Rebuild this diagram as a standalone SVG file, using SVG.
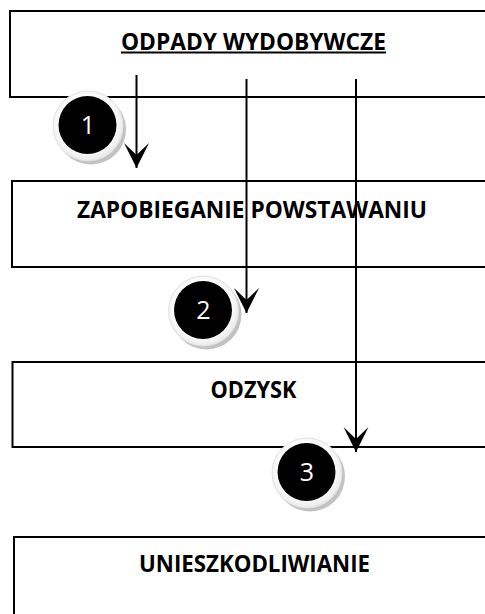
<svg xmlns="http://www.w3.org/2000/svg" width="485" height="614" viewBox="0 0 485 614">
  <style>
    .box { fill: none; stroke: #000; stroke-width: 2; }
    .label { font-family: "Open Sans", "Liberation Sans", sans-serif; font-weight: bold; font-size: 23px; fill: #000; text-anchor: middle; }
    .link { stroke: #000; stroke-width: 2; fill: none; }
    .shadow { fill: #c2c2c2; }
    .ring { fill: url(#ringFill); stroke: #e2e2e2; stroke-width: 1; }
    .disc { fill: #000; }
    .num { font-family: "Open Sans", "Liberation Sans", sans-serif; font-size: 25px; fill: #fff; text-anchor: middle; }
  </style>
  <defs>
    <radialGradient id="ringFill" cx="0.48" cy="0.46" r="0.55">
      <stop offset="0.7" stop-color="#ffffff"/>
      <stop offset="1" stop-color="#e8e8e8"/>
    </radialGradient>
    <!-- concave arrowhead, tip at the end of the line -->
    <marker id="head" markerUnits="userSpaceOnUse" markerWidth="28" markerHeight="28" viewBox="-27 -14 28 28" refX="0" refY="0" orient="auto">
      <path d="M0,0 L-25,-12.5 L-13,0 L-25,12.5 Z" fill="#000"/>
    </marker>
  </defs>

  <rect width="485" height="614" fill="#fff"/>

  <!-- stages -->
  <g id="odpady">
    <rect class="box" x="10" y="11" width="490" height="86"/>
    <text class="label" x="253.5" y="49.5" textLength="265" lengthAdjust="spacingAndGlyphs">ODPADY WYDOBYWCZE</text>
    <line x1="121" y1="52.5" x2="386" y2="52.5" stroke="#000" stroke-width="2"/>
  </g>
  <g id="zapobieganie">
    <rect class="box" x="12" y="181" width="490" height="86"/>
    <text class="label" x="252" y="217.5" textLength="350" lengthAdjust="spacingAndGlyphs">ZAPOBIEGANIE POWSTAWANIU</text>
  </g>
  <g id="odzysk">
    <rect class="box" x="12.5" y="362" width="490" height="85"/>
    <text class="label" x="253.5" y="397.5" textLength="86" lengthAdjust="spacingAndGlyphs">ODZYSK</text>
  </g>
  <g id="unieszkodliwianie">
    <rect class="box" x="14" y="537" width="490" height="100"/>
    <text class="label" x="254.5" y="571.5" textLength="231" lengthAdjust="spacingAndGlyphs">UNIESZKODLIWIANIE</text>
  </g>

  <!-- flows -->
  <g id="connectors">
    <line class="link" x1="136.5" y1="75" x2="136.5" y2="168" marker-end="url(#head)"/>
    <line class="link" x1="246.5" y1="79" x2="246.5" y2="313" marker-end="url(#head)"/>
    <line class="link" x1="356" y1="79" x2="356" y2="452" marker-end="url(#head)"/>
  </g>

  <!-- numbered badges -->
  <g id="badge1">
    <circle class="shadow" cx="91" cy="129.5" r="35"/>
    <circle class="ring" cx="88" cy="126" r="35"/>
    <circle class="disc" cx="87.5" cy="125" r="29"/>
    <text class="num" x="88" y="134">1</text>
  </g>
  <g id="badge2">
    <circle class="shadow" cx="206.5" cy="314.5" r="35"/>
    <circle class="ring" cx="203.5" cy="311" r="35"/>
    <circle class="disc" cx="203" cy="310" r="29"/>
    <text class="num" x="203.5" y="319">2</text>
  </g>
  <g id="badge3">
    <circle class="shadow" cx="310" cy="476.5" r="35"/>
    <circle class="ring" cx="307" cy="473" r="35"/>
    <circle class="disc" cx="306.5" cy="472" r="29"/>
    <text class="num" x="307" y="481">3</text>
  </g>
</svg>
